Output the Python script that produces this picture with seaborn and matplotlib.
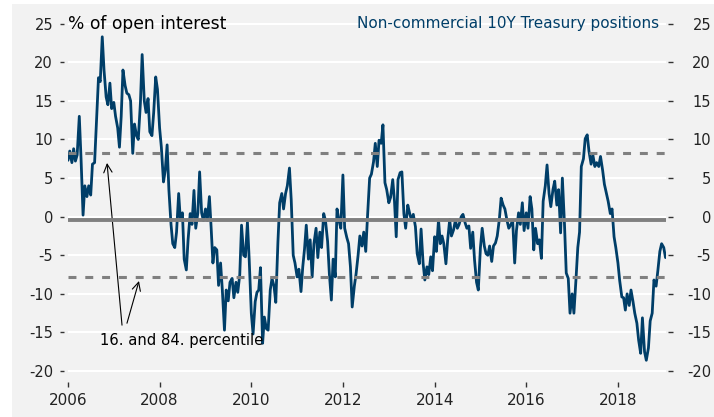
import pandas as pd
import matplotlib
matplotlib.use('Agg')
from matplotlib import pyplot as plt
from matplotlib.patches import Rectangle
import seaborn as sns

# net non-commercial positions, % of open interest, read twice a month
positions = [
    7.3, 8.5, 7.0, 8.8, 7.2, 8.0, 13.0, 7.5, 0.2, 4.0, 2.6, 4.0,
    2.8, 6.8, 7.0, 12.0, 18.0, 17.5, 23.3, 19.0, 15.5, 14.5, 17.3, 14.0,
    14.8, 13.0, 11.5, 9.0, 13.0, 19.0, 17.0, 16.0, 15.8, 15.0, 8.2, 12.0,
    10.5, 10.0, 14.7, 21.0, 15.0, 13.5, 15.3, 11.0, 10.5, 13.5, 18.1, 16.5,
    11.5, 9.0, 4.5, 6.0, 9.3, 3.5, -1.0, -3.5, -4.0, -2.0, 3.0, -0.5,
    0.5, -5.5, -6.9, -3.0, 0.4, -1.0, 3.4, -1.5, 0.5, 5.8, 0.5, -0.5,
    1.0, -0.5, 2.6, -1.5, -6.0, -4.0, -4.3, -8.9, -6.0, -9.5, -14.7, -9.5,
    -10.9, -8.5, -8.0, -10.5, -8.5, -9.8, -7.5, -1.1, -5.0, -5.2, -0.7, -5.5,
    -12.5, -15.2, -11.0, -9.8, -9.5, -6.6, -16.4, -13.0, -14.5, -14.7, -9.5, -8.0,
    -9.0, -11.1, -3.3, 1.8, 3.0, 1.0, 3.0, 4.0, 6.3, 2.2, -5.0, -6.0,
    -7.8, -6.8, -9.7, -6.5, -4.2, -1.1, -5.5, -3.0, -7.8, -3.5, -1.5, -5.3,
    -2.0, -4.0, 0.4, -0.5, -3.2, -7.4, -10.8, -5.5, -7.8, 1.0, -0.5, -1.5,
    5.4, -1.5, -2.7, -3.5, -6.5, -11.7, -9.0, -7.4, -5.0, -2.5, -3.8, -2.0,
    -4.5, 0.0, 5.0, 5.5, 7.1, 9.5, 6.5, 9.9, 9.5, 11.9, 4.4, 3.5,
    1.8, 2.5, 4.8, 2.0, -2.6, 4.8, 5.7, 5.8, 0.4, -1.5, 1.5, 0.5,
    -0.5, 0.3, -1.3, -4.8, -6.1, -1.6, -6.0, -8.2, -6.5, -7.5, -5.2, -7.0,
    -2.6, -4.5, -0.4, -3.5, -2.5, -3.5, -6.1, -3.0, -0.4, -2.5, -1.7, -0.5,
    -1.5, -1.0, 0.0, 0.3, -0.8, -1.5, -1.2, -4.1, -2.0, -5.6, -8.5, -9.5,
    -4.0, -1.5, -3.8, -4.8, -5.0, -3.8, -5.8, -3.8, -3.4, -2.5, -0.3, 2.4,
    1.5, 1.0, -0.5, -1.5, -1.0, -0.5, -6.0, -1.8, 0.5, -1.0, 1.8, -1.8,
    0.5, -1.5, 2.6, 1.0, -4.3, -1.5, -3.5, -3.0, -5.4, 2.0, 4.0, 6.7,
    3.0, 1.3, 3.5, 4.6, 1.5, 3.5, -2.1, 5.0, -1.0, -7.3, -8.0, -12.5,
    -10.0, -12.5, -8.0, -4.0, -2.0, 6.5, 7.5, 10.1, 10.6, 8.5, 6.8, 8.0,
    6.5, 7.0, 6.5, 7.8, 6.0, 4.2, 3.0, 2.0, 0.4, 1.0, -2.6, -4.0,
    -6.0, -8.3, -10.4, -10.5, -12.1, -10.0, -11.5, -9.5, -11.0, -12.5, -13.8, -16.0,
    -17.7, -13.1, -17.5, -18.6, -17.0, -13.5, -12.5, -8.2, -9.0, -7.0, -4.5, -3.5,
    -4.0, -5.3,
]
pct_84 = 8.2
pct_16 = -7.8
mean_level = -0.45
year_ticks = [2006, 2008, 2010, 2012, 2014, 2016, 2018]
y_ticks = [-20, -15, -10, -5, 0, 5, 10, 15, 20, 25]

dates = pd.date_range('2006-01-01', periods=len(positions), freq='SMS')
df = pd.DataFrame({'date': dates, 'position': positions})

bg = '#f2f2f2'
blue = '#003e68'
grey = '#808080'
txt = '#222222'

sns.set_theme(style='darkgrid', rc={'axes.facecolor': bg, 'grid.color': 'white'})
plt.rcParams['font.family'] = ['DejaVu Sans']

fig = plt.figure(figsize=(7.14, 4.17), dpi=100, facecolor='white')
fig.add_artist(Rectangle((12 / 714, 0), 1, 413 / 417, transform=fig.transFigure,
                         facecolor=bg, edgecolor='none', zorder=-10))
ax = fig.add_axes([68 / 714, 0.0916, 597.5 / 714, 0.8794])
ax.set_facecolor(bg)

sns.lineplot(data=df, x='date', y='position', ax=ax, color=blue, linewidth=2.0, zorder=3)
ax.axhline(mean_level, color=grey, lw=2.8, zorder=4)
for lvl in (pct_84, pct_16):
    ax.axhline(lvl, color=grey, lw=2.2, ls=(0, (2.6, 2.9)), zorder=4)

ax.set_xlim(dates[0], dates[-1])
ax.set_ylim(-21, 26.5)
ax.set_xticks([pd.Timestamp(f'{y}-01-01') for y in year_ticks])
ax.set_xticklabels([str(y) for y in year_ticks])
ax.set_yticks(y_ticks)
ax.set_yticklabels([str(v) for v in y_ticks])
ax.set_xlabel('')
ax.set_ylabel('')
ax.grid(axis='x', visible=False)
ax.grid(axis='y', color='white', lw=1.5)
for s in ax.spines.values():
    s.set_visible(False)
ax.spines['left'].set_position(('outward', 2.9))
ax.spines['bottom'].set_position(('outward', 2.2))
ax.tick_params(axis='y', left=True, length=2.9, width=1, color='#333333',
               pad=5, labelsize=10.5, labelcolor=txt)
ax.tick_params(axis='x', bottom=True, length=3.6, width=1, color='#333333',
               pad=4.3, labelsize=11, labelcolor=txt)

ax2 = ax.twinx()
ax2.set_ylim(ax.get_ylim())
ax2.set_yticks(y_ticks)
ax2.set_yticklabels([str(v) for v in y_ticks])
ax2.grid(False)
for s in ax2.spines.values():
    s.set_visible(False)
ax2.spines['right'].set_position(('outward', 1.8))
ax2.tick_params(axis='y', right=True, length=3.6, width=1, color='#333333',
                pad=27.4, labelsize=10.5, labelcolor=txt)
for lab in ax2.get_yticklabels():
    lab.set_horizontalalignment('right')

yx = ax.get_yaxis_transform()
ax.text(0.0, 25, '% of open interest', transform=yx, ha='left', va='center',
        fontsize=12.3, color='black')
ax.text(0.989, 25, 'Non-commercial 10Y Treasury positions', transform=yx,
        ha='right', va='center', fontsize=11, color=blue)
ax.text(0.0536, -16.0, '16. and 84. percentile', transform=yx, ha='left',
        va='center', fontsize=10.6, color='black')
arrow = dict(arrowstyle='->,head_length=0.5,head_width=0.25', color='black',
             lw=0.8, shrinkA=0, shrinkB=0)
ax.annotate('', xy=(0.0653, 6.96), xycoords=yx, xytext=(0.0904, -14.05),
            textcoords=yx, arrowprops=arrow)
ax.annotate('', xy=(0.1188, -8.33), xycoords=yx, xytext=(0.0987, -13.8),
            textcoords=yx, arrowprops=arrow)

plt.savefig('out.png', dpi=100, facecolor=fig.get_facecolor())
